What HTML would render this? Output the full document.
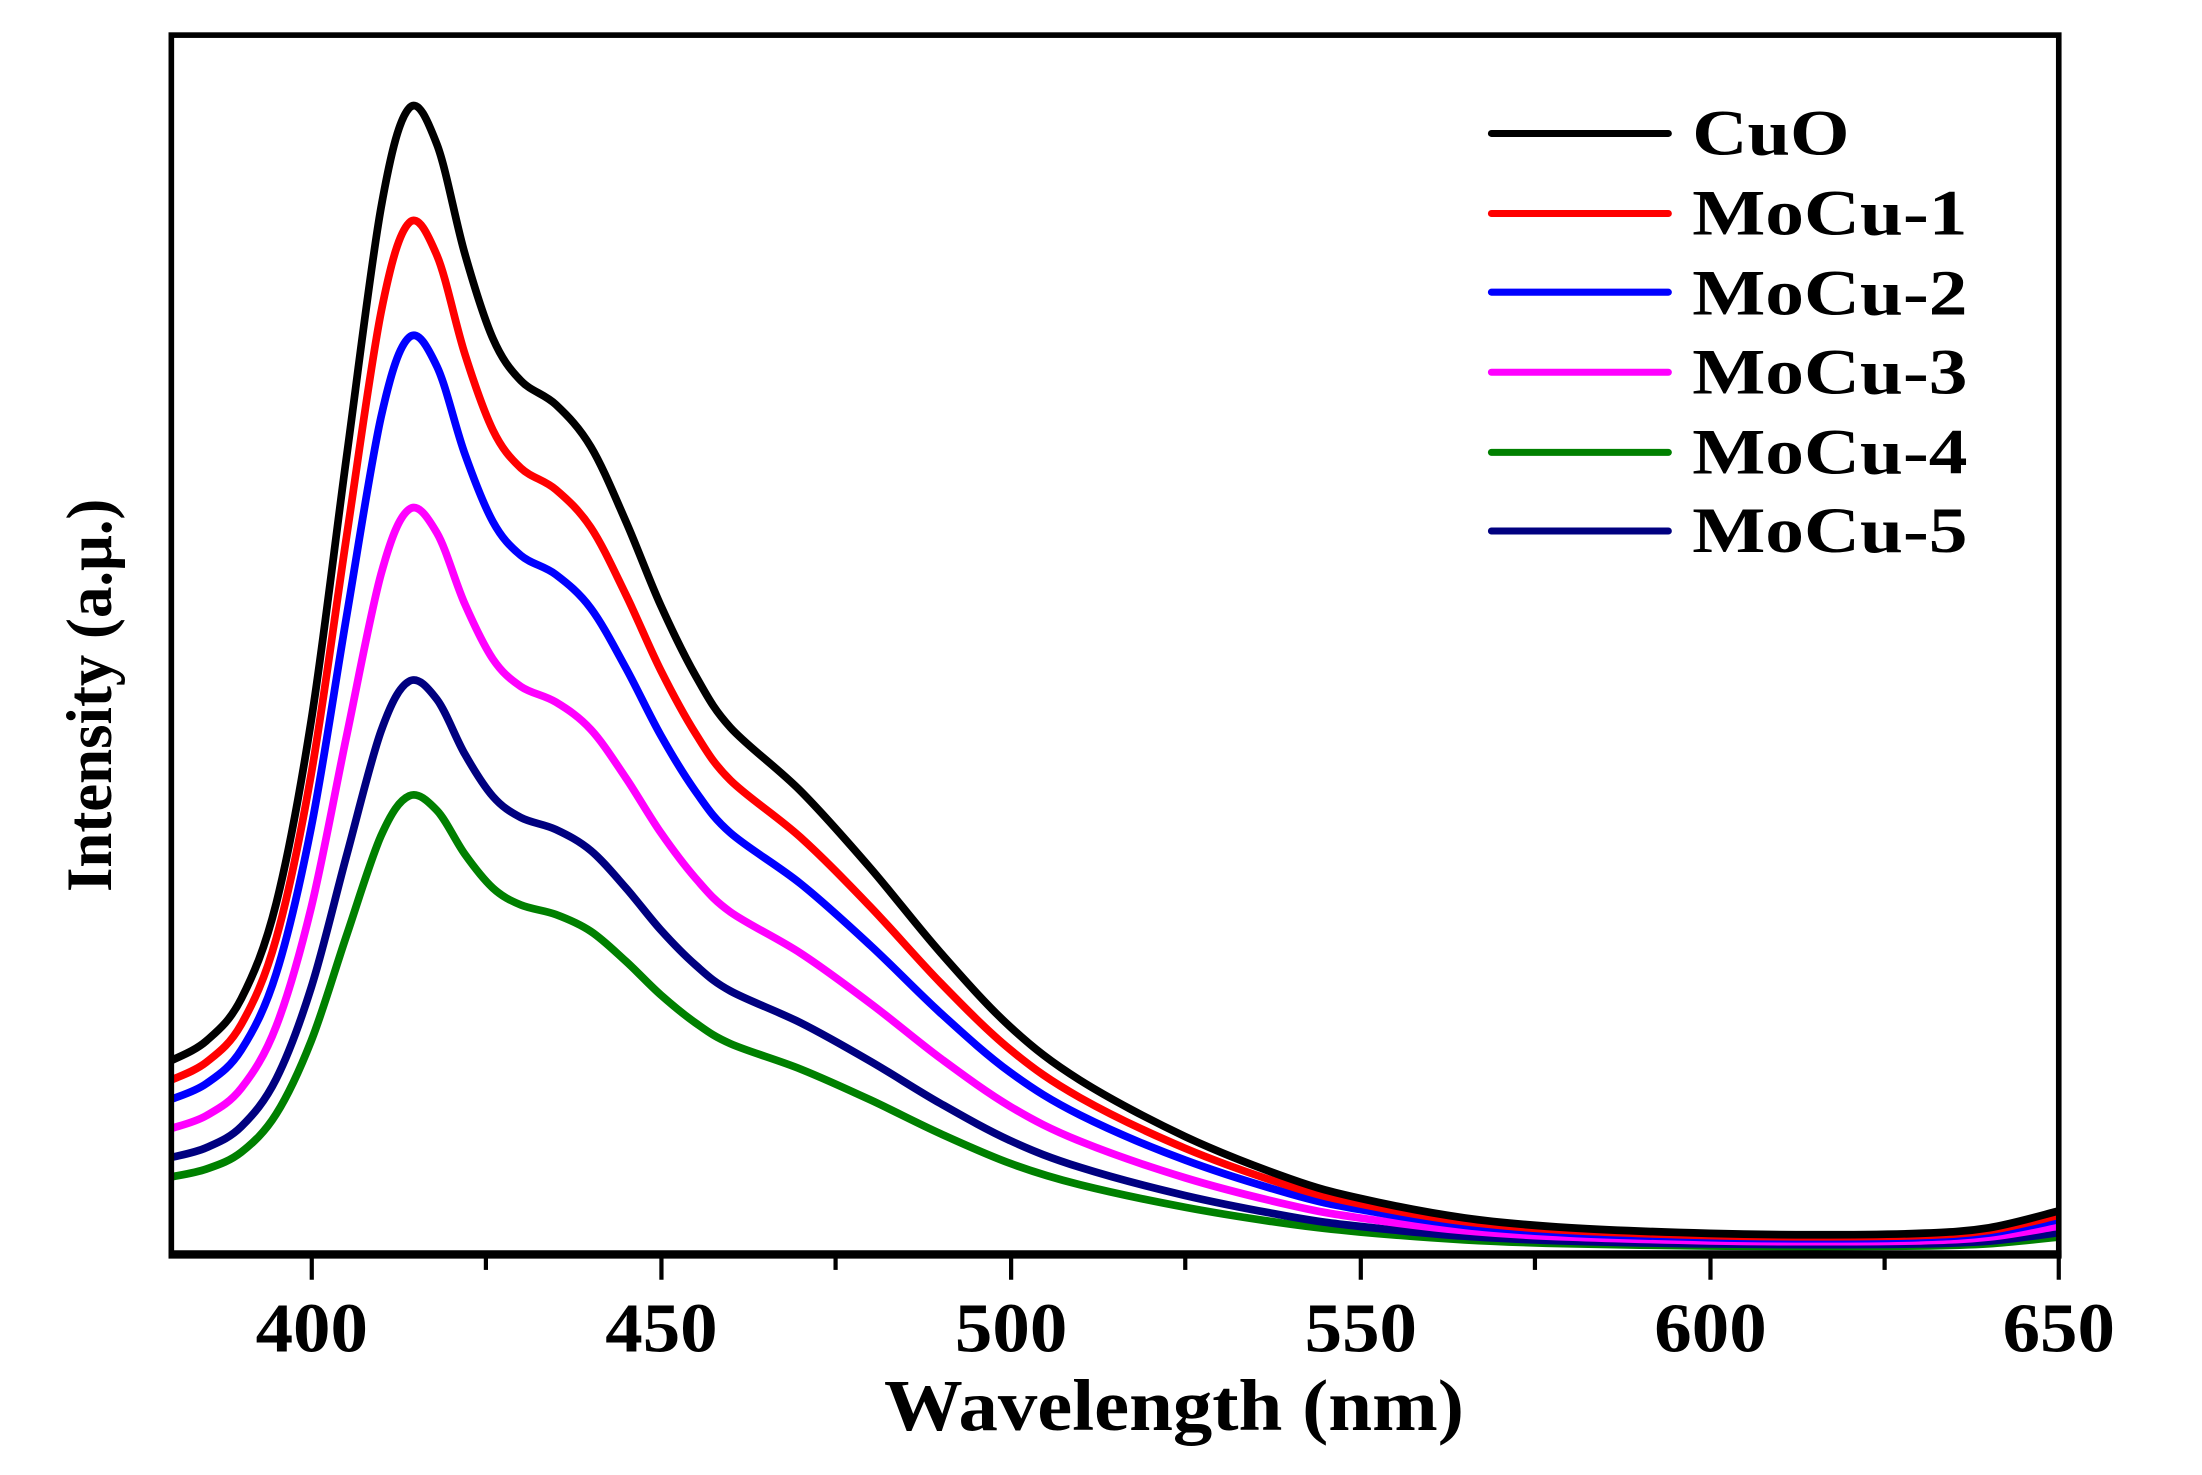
<!DOCTYPE html>
<html><head><meta charset="utf-8"><style>
html,body{margin:0;padding:0;background:#fff;}
svg{display:block;}
text{font-family:"Liberation Serif",serif;font-weight:bold;fill:#000;}
</style></head><body>
<svg id="s" width="2202" height="1475" viewBox="0 0 1568 1050" preserveAspectRatio="none" xmlns="http://www.w3.org/2000/svg">
<rect x="0" y="0" width="1568" height="1050" fill="#fff"/>
<g id="curves" fill="none" stroke-width="5.5" stroke-linejoin="round"></g>
<rect x="122" y="25" width="1344" height="868" fill="none" stroke="#000" stroke-width="4"/>
<line x1="120" y1="893" x2="1468" y2="893" stroke="#000" stroke-width="6"/>
<g stroke="#000" stroke-width="3">
<line x1="222" y1="893" x2="222" y2="911"/><line x1="471" y1="893" x2="471" y2="911"/>
<line x1="720" y1="893" x2="720" y2="911"/><line x1="969" y1="893" x2="969" y2="911"/>
<line x1="1218" y1="893" x2="1218" y2="911"/><line x1="1466" y1="893" x2="1466" y2="911"/>
<line x1="346" y1="893" x2="346" y2="904"/><line x1="595" y1="893" x2="595" y2="904"/>
<line x1="844" y1="893" x2="844" y2="904"/><line x1="1093" y1="893" x2="1093" y2="904"/>
<line x1="1342" y1="893" x2="1342" y2="904"/>
</g>
<g font-size="50" text-anchor="middle">
<text x="222" y="962" textLength="80" lengthAdjust="spacingAndGlyphs">400</text><text x="471" y="962" textLength="80" lengthAdjust="spacingAndGlyphs">450</text><text x="720" y="962" textLength="80" lengthAdjust="spacingAndGlyphs">500</text>
<text x="969" y="962" textLength="80" lengthAdjust="spacingAndGlyphs">550</text><text x="1218" y="962" textLength="80" lengthAdjust="spacingAndGlyphs">600</text><text x="1466" y="962" textLength="80" lengthAdjust="spacingAndGlyphs">650</text>
</g>
<text x="836" y="1018" font-size="52" text-anchor="middle" textLength="413" lengthAdjust="spacingAndGlyphs">Wavelength (nm)</text>
<text transform="translate(79,495) rotate(-90)" font-size="46" text-anchor="middle" textLength="280" lengthAdjust="spacingAndGlyphs">Intensity (a.μ.)</text>
<g stroke-width="5" stroke-linecap="round">
<line x1="1062" y1="95" x2="1188" y2="95" stroke="#000"/>
<line x1="1062" y1="152" x2="1188" y2="152" stroke="#ff0000"/>
<line x1="1062" y1="208" x2="1188" y2="208" stroke="#0000ff"/>
<line x1="1062" y1="265" x2="1188" y2="265" stroke="#ff00ff"/>
<line x1="1062" y1="322" x2="1188" y2="322" stroke="#008000"/>
<line x1="1062" y1="378" x2="1188" y2="378" stroke="#000080"/>
</g>
<g font-size="46">
<text x="1205" y="110" textLength="112" lengthAdjust="spacingAndGlyphs">CuO</text>
<text x="1205" y="167" textLength="196" lengthAdjust="spacingAndGlyphs">MoCu-1</text>
<text x="1205" y="224" textLength="196" lengthAdjust="spacingAndGlyphs">MoCu-2</text>
<text x="1205" y="280" textLength="196" lengthAdjust="spacingAndGlyphs">MoCu-3</text>
<text x="1205" y="337" textLength="196" lengthAdjust="spacingAndGlyphs">MoCu-4</text>
<text x="1205" y="393" textLength="196" lengthAdjust="spacingAndGlyphs">MoCu-5</text>
</g>
</svg>
<script>
var pts=[[380,138],[385,152],[390,182],[395,250],[400,380],[405,565],[410,745],[414,816],[418,790],[422,712],[426,652],[430,622],[435,605],[440,575],[445,522],[450,462],[455,412],[460,375],[470,330],[480,275],[490,215],[500,162],[510,124],[525,84],[540,54],[550,40],[565,26],[580,19],[600,15],[615,14],[630,15],[640,19],[650,31]];
var series=[["#008000",0.40],["#000080",0.50],["#ff00ff",0.65],["#0000ff",0.80],["#ff0000",0.90],["#000000",1.0]];
function X(l){return 122+(l-380)*4.978;}
var g=document.getElementById('curves');
series.forEach(function(s){
  var p=pts.map(function(q){return [X(q[0]),893-q[1]*s[1]];});
  var d='M'+p[0][0].toFixed(1)+','+p[0][1].toFixed(1);
  for(var i=0;i<p.length-1;i++){
    var p0=p[i-1]||p[i],p1=p[i],p2=p[i+1],p3=p[i+2]||p2;
    var c1=[p1[0]+(p2[0]-p0[0])/6,p1[1]+(p2[1]-p0[1])/6];
    var c2=[p2[0]-(p3[0]-p1[0])/6,p2[1]-(p3[1]-p1[1])/6];
    d+=' C'+c1[0].toFixed(1)+','+c1[1].toFixed(1)+' '+c2[0].toFixed(1)+','+c2[1].toFixed(1)+' '+p2[0].toFixed(1)+','+p2[1].toFixed(1);
  }
  var e=document.createElementNS('http://www.w3.org/2000/svg','path');
  e.setAttribute('d',d);e.setAttribute('stroke',s[0]);
  g.appendChild(e);
});
</script>
</body></html>
